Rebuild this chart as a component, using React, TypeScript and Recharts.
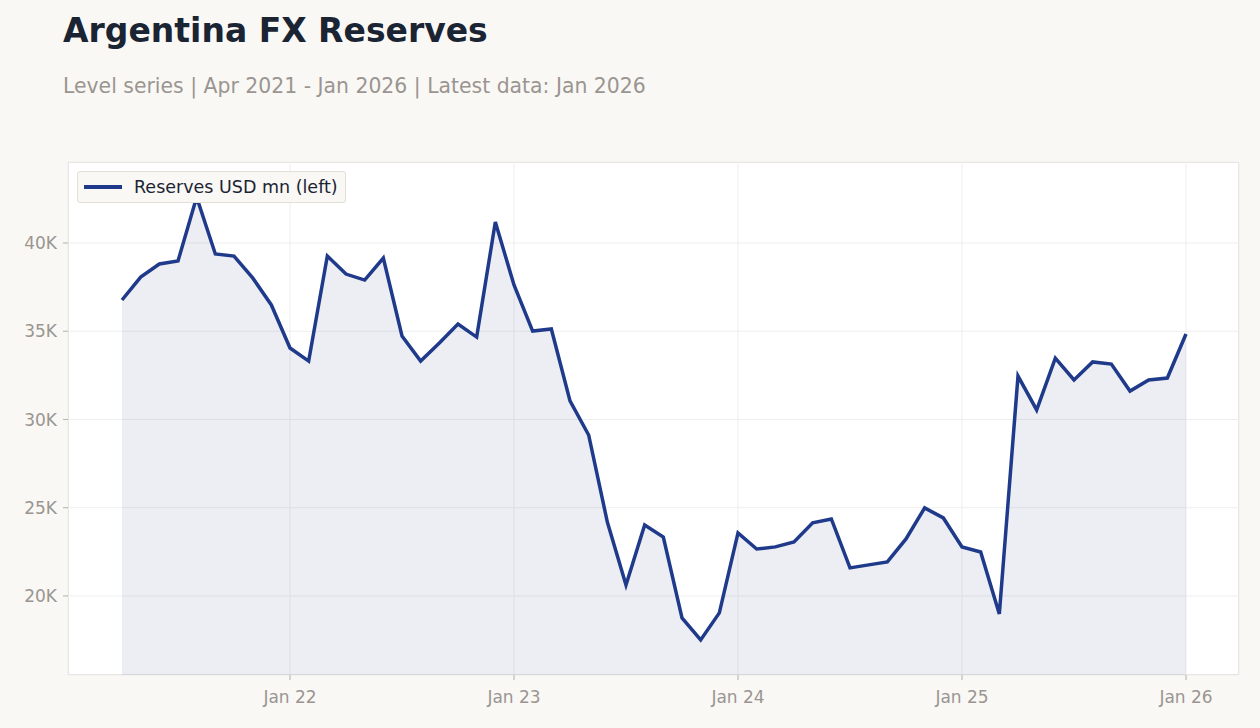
import { ComposedChart, Area, Line, XAxis, YAxis, CartesianGrid } from "recharts";

const months = [
  "Apr 21", "May 21", "Jun 21", "Jul 21", "Aug 21", "Sep 21", "Oct 21", "Nov 21", "Dec 21",
  "Jan 22", "Feb 22", "Mar 22", "Apr 22", "May 22", "Jun 22", "Jul 22", "Aug 22", "Sep 22", "Oct 22", "Nov 22", "Dec 22",
  "Jan 23", "Feb 23", "Mar 23", "Apr 23", "May 23", "Jun 23", "Jul 23", "Aug 23", "Sep 23", "Oct 23", "Nov 23", "Dec 23",
  "Jan 24", "Feb 24", "Mar 24", "Apr 24", "May 24", "Jun 24", "Jul 24", "Aug 24", "Sep 24", "Oct 24", "Nov 24", "Dec 24",
  "Jan 25", "Feb 25", "Mar 25", "Apr 25", "May 25", "Jun 25", "Jul 25", "Aug 25", "Sep 25", "Oct 25", "Nov 25", "Dec 25",
  "Jan 26",
];

// reserves, USD mn
const reserves = [
  36770, 38070, 38810, 38980, 42600, 39380, 39260, 38020, 36490,
  34050, 33310, 39260, 38240, 37900, 39150, 34730, 33310, 34330, 35410, 34670, 41190,
  37620, 35010, 35130, 31050, 29120, 24190, 20620, 24020, 23340, 18750, 17510, 19040,
  23570, 22660, 22780, 23060, 24140, 24360, 21590, 21760, 21930, 23230, 24990, 24420,
  22780, 22490, 18980, 32460, 30540, 33480, 32240, 33260, 33140, 31610, 32240, 32350,
  34840,
];

const xTicks = ["Jan 22", "Jan 23", "Jan 24", "Jan 25", "Jan 26"];
const yTicks = [20000, 25000, 30000, 35000, 40000];

const data = months.map((month, i) => ({ month, reserves: reserves[i] }));

const FONT = "'DejaVu Sans', sans-serif";
const LINE = "#1f3a8a";
const MUTED = "#9a9590";

export default function App() {
  return (
    <div
      style={{
        position: "absolute",
        top: 0,
        left: 0,
        width: 1260,
        height: 728,
        background: "#f9f8f5",
        fontFamily: FONT,
        overflow: "hidden",
      }}
    >
      <div style={{ position: "absolute", left: 63, top: 11, fontSize: 33, fontWeight: "bold", color: "#1b2433", whiteSpace: "nowrap" }}>
        Argentina FX Reserves
      </div>
      <div style={{ position: "absolute", left: 63, top: 74, fontSize: 20.4, color: MUTED, whiteSpace: "nowrap" }}>
        Level series | Apr 2021 - Jan 2026 | Latest data: Jan 2026
      </div>
      <div
        style={{
          position: "absolute",
          left: 68,
          top: 162,
          width: 1171,
          height: 513,
          boxSizing: "border-box",
          background: "#ffffff",
          border: "1px solid #e3ded6",
        }}
      />
      <div style={{ position: "absolute", left: 0, top: 0 }}>
        <ComposedChart width={1260} height={728} data={data} margin={{ top: 162, right: 21, bottom: 23, left: 8 }}>
          <CartesianGrid stroke="#eeeeee" strokeWidth={1} />
          <XAxis
            dataKey="month"
            ticks={xTicks}
            interval={0}
            padding={{ left: 54, right: 53 }}
            axisLine={false}
            tickLine={{ stroke: "#b5b0aa" }}
            tickSize={5}
            height={30}
            tick={{ fill: MUTED, fontSize: 17, fontFamily: FONT }}
            dy={9}
          />
          <YAxis
            width={60}
            domain={[15520, 44590]}
            ticks={yTicks}
            allowDataOverflow
            axisLine={false}
            tickLine={{ stroke: "#b5b0aa" }}
            tickSize={5}
            tickMargin={6}
            tickFormatter={(v: number) => `${v / 1000}K`}
            tick={{ fill: MUTED, fontSize: 17, fontFamily: FONT }}
          />
          <Area
            type="linear"
            dataKey="reserves"
            fill="#24367a"
            fillOpacity={0.085}
            stroke="none"
            isAnimationActive={false}
            legendType="none"
          />
          <Line
            type="linear"
            dataKey="reserves"
            name="Reserves USD mn (left)"
            stroke={LINE}
            strokeWidth={3.5}
            dot={false}
            activeDot={false}
            isAnimationActive={false}
          />
        </ComposedChart>
      </div>
      <div
        style={{
          position: "absolute",
          left: 77,
          top: 171,
          height: 32,
          boxSizing: "border-box",
          display: "flex",
          alignItems: "center",
          background: "#f9f8f5",
          border: "1px solid #e3ded6",
          borderRadius: 3,
          padding: "0 7px 0 6px",
          fontSize: 17.5,
          color: "#1b2433",
          whiteSpace: "nowrap",
        }}
      >
        <span style={{ display: "inline-block", width: 38, height: 3.5, background: LINE, marginRight: 12 }} />
        Reserves USD mn (left)
      </div>
    </div>
  );
}
